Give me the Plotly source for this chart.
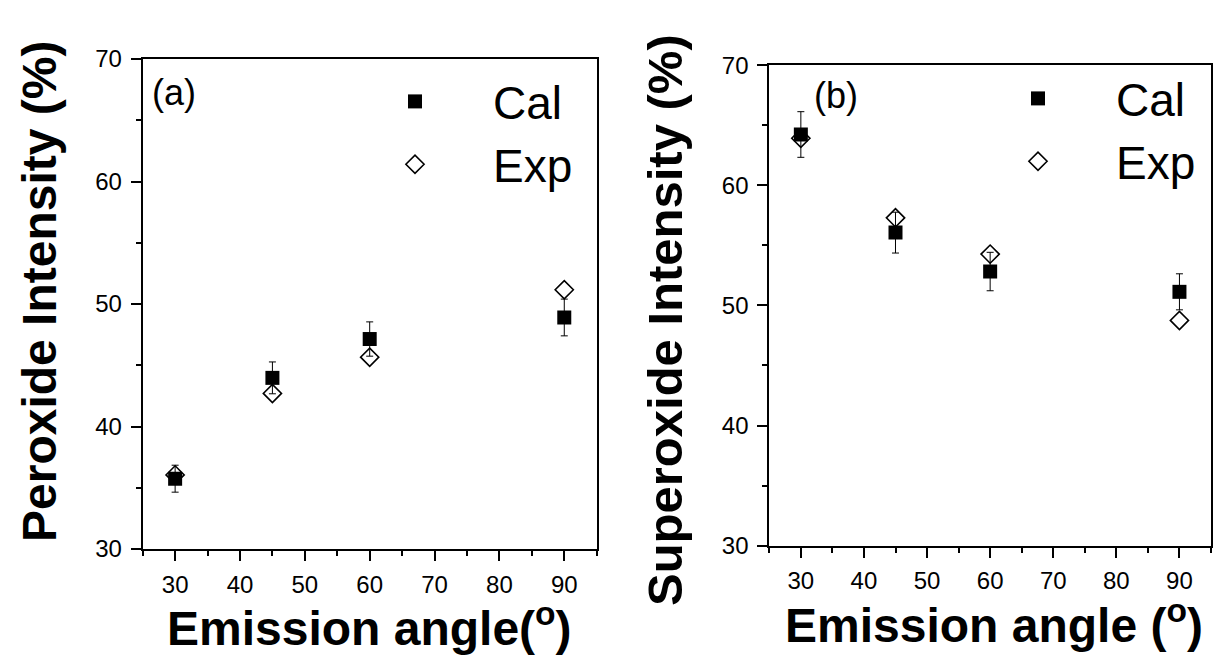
import plotly.graph_objects as go

# ---------------- data ----------------
angles = [30, 45, 60, 90]

peroxide_cal = [35.74, 43.97, 47.14, 48.9]
peroxide_cal_err = [1.1, 1.3, 1.4, 1.5]
peroxide_exp = [36.05, 42.7, 45.66, 51.16]

superoxide_cal = [64.23, 56.06, 52.82, 51.13]
superoxide_cal_err = [1.9, 1.7, 1.6, 1.5]
superoxide_exp = [63.92, 57.29, 54.27, 48.75]

x_ticks = [30, 40, 50, 60, 70, 80, 90]
y_ticks = [30, 40, 50, 60, 70]

FONT = "Liberation Sans, Arial, Helvetica, sans-serif"
OFF = 8                      # page body margin of the html page
W, H = 1222 - OFF, 664 - OFF

fig = go.Figure()

def add_pair(cal, err, exp, xa, ya, leg):
    fig.add_trace(go.Scatter(
        x=angles, y=cal, mode="markers", name="Cal",
        xaxis=xa, yaxis=ya, legend=leg,
        marker=dict(symbol="square", size=14, color="black",
                    line=dict(width=0)),
        error_y=dict(type="data", array=err, visible=True,
                     color="black", thickness=1, width=3.5),
    ))
    fig.add_trace(go.Scatter(
        x=angles, y=exp, mode="markers", name="Exp",
        xaxis=xa, yaxis=ya, legend=leg,
        marker=dict(symbol="diamond-open", size=14, color="black",
                    line=dict(width=1.6, color="black")),
    ))

add_pair(peroxide_cal, peroxide_cal_err, peroxide_exp, "x", "y", "legend")
add_pair(superoxide_cal, superoxide_cal_err, superoxide_exp, "x2", "y2", "legend2")

def px_x(p):
    return (p - OFF) / W

def px_y(p):
    return 1 - (p - OFF) / H

common_axis = dict(
    showline=True, linecolor="black", linewidth=2, mirror=True,
    ticks="outside", ticklen=10, tickwidth=1.5, tickcolor="black",
    showgrid=False, zeroline=False, automargin=False,
    tickfont=dict(family=FONT, size=24, color="black"),
)

xax = dict(common_axis, range=[25, 95], tickvals=x_ticks,
           minor=dict(dtick=5, tick0=25, ticks="outside", ticklen=5,
                      tickwidth=1.5, tickcolor="black", showgrid=False),
           ticklabelstandoff=3)
yax = dict(common_axis, range=[30, 70], tickvals=y_ticks,
           minor=dict(dtick=5, tick0=30, ticks="outside", ticklen=5,
                      tickwidth=1.5, tickcolor="black", showgrid=False),
           ticklabelstandoff=4)

fig.update_layout(
    width=W, height=H,
    margin=dict(l=0, r=0, t=0, b=0, autoexpand=False),
    paper_bgcolor="white", plot_bgcolor="white",
    font=dict(family=FONT, color="black"),
    xaxis=dict(xax, domain=[px_x(142.7), px_x(596.7)], anchor="y"),
    yaxis=dict(yax, domain=[px_y(549), px_y(59)], anchor="x"),
    xaxis2=dict(xax, domain=[px_x(769.3), px_x(1211)], anchor="y2"),
    yaxis2=dict(yax, domain=[px_y(545.6), px_y(65.2)], anchor="x2"),
    legend=dict(x=px_x(337), y=px_y(65), xanchor="left", yanchor="top",
                bgcolor="rgba(0,0,0,0)", itemwidth=146, itemsizing="trace",
                font=dict(family=FONT, size=46, color="black")),
    legend2=dict(x=px_x(960), y=px_y(62), xanchor="left", yanchor="top",
                 bgcolor="rgba(0,0,0,0)", itemwidth=146, itemsizing="trace",
                 font=dict(family=FONT, size=46, color="black")),
    showlegend=True,
)

ann = []
# panel labels
ann.append(dict(text="(a)", x=px_x(150), y=px_y(92), xref="paper", yref="paper",
                xanchor="left", yanchor="middle", showarrow=False,
                font=dict(family=FONT, size=36, color="black")))
ann.append(dict(text="(b)", x=px_x(812), y=px_y(95.5), xref="paper", yref="paper",
                xanchor="left", yanchor="middle", showarrow=False,
                font=dict(family=FONT, size=36, color="black")))
# x titles
ann.append(dict(text="<b>Emission angle(<sup>o</sup>)</b>", x=px_x(369.7), y=px_y(625),
                xref="paper", yref="paper", xanchor="center", yanchor="middle",
                showarrow=False, font=dict(family=FONT, size=48, color="black")))
ann.append(dict(text="<b>Emission angle (<sup>o</sup>)</b>", x=px_x(994), y=px_y(622),
                xref="paper", yref="paper", xanchor="center", yanchor="middle",
                showarrow=False, font=dict(family=FONT, size=48, color="black")))
# y titles
ann.append(dict(text="<b>Peroxide Intensity (%)</b>", x=px_x(40), y=px_y(292),
                xref="paper", yref="paper", xanchor="center", yanchor="middle",
                textangle=-90, showarrow=False,
                font=dict(family=FONT, size=48, color="black")))
ann.append(dict(text="<b>Superoxide Intensity (%)</b>", x=px_x(665), y=px_y(320),
                xref="paper", yref="paper", xanchor="center", yanchor="middle",
                textangle=-90, showarrow=False,
                font=dict(family=FONT, size=49, color="black")))
fig.update_layout(annotations=ann)

fig.write_html("out.html")
